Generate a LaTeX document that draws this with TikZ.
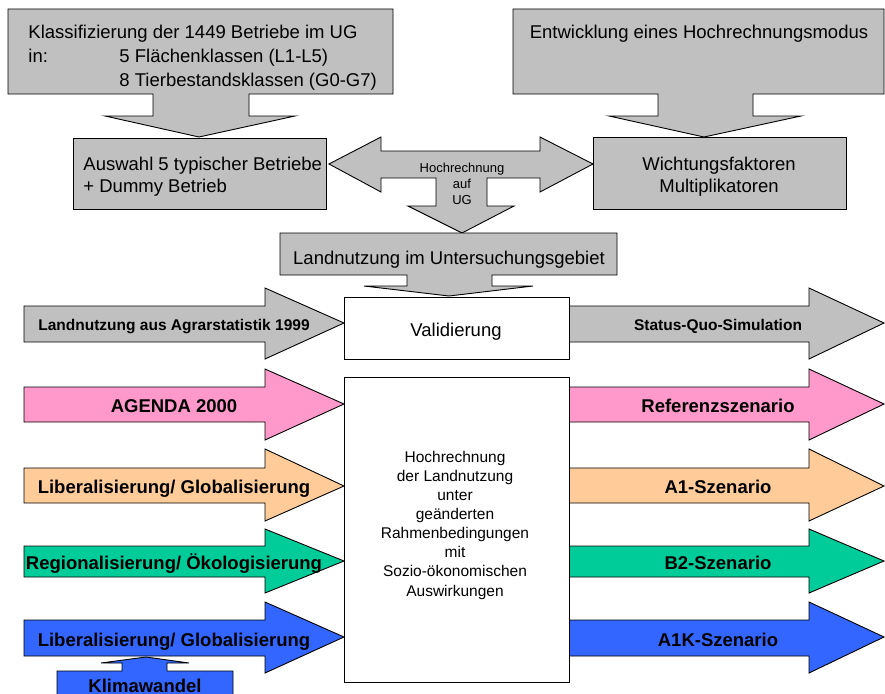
\documentclass[tikz,border=0pt]{standalone}
\usepackage{fontspec}
\setmainfont{Liberation Sans}
\definecolor{cgray}{RGB}{192,192,192}
\definecolor{cpink}{RGB}{255,153,204}
\definecolor{corange}{RGB}{255,204,153}
\definecolor{cgreen}{RGB}{0,204,153}
\definecolor{cblue}{RGB}{51,102,255}
\newcommand{\fbig}{\fontsize{18.5}{22}\selectfont}
\newcommand{\fmid}{\fontsize{15.5}{19.1}\selectfont}
\newcommand{\fsmall}{\fontsize{13}{15.6}\selectfont}
% block arrow pointing right: style, x0, xhead, xtip, shaft top, shaft bottom, head top, head bottom, mid
\newcommand{\blockarrow}[9]{%
  \draw[#1] (#2,#5) -- (#3,#5) -- (#3,#7) -- (#4,#9) -- (#3,#8) -- (#3,#6) -- (#2,#6) -- cycle;}
\begin{document}
\begin{tikzpicture}[x=1pt,y=-1pt,line width=0.9pt,line join=miter,
  shp/.style={draw=black},
  txt/.style={inner sep=0pt,anchor=base},
  txtl/.style={inner sep=0pt,anchor=base west},
  lbl/.style={inner sep=0pt,anchor=base,font=\fbig\bfseries},
  lblg/.style={inner sep=0pt,anchor=base,font=\fmid\bfseries}]
\useasboundingbox (0,0) rectangle (885,693);
\clip (0,0) rectangle (885,693);

% top callouts
\draw[shp,fill=cgray] (8,9) -- (393,9) -- (393,94) -- (249,94) -- (249,116) -- (295,116) -- (199,137)
  -- (105,116) -- (153,116) -- (153,94) -- (8,94) -- cycle;
\draw[shp,fill=cgray] (513,9) -- (884,9) -- (884,94) -- (753,94) -- (753,116) -- (801,116) -- (704,137)
  -- (609,116) -- (658,116) -- (658,94) -- (513,94) -- cycle;
\node[txtl,font=\fbig] (klass1) at (28,39) {Klassifizierung der 1449 Betriebe im UG};
\node[txtl,font=\fbig] (klass2) at (28,63) {in:};
\node[txtl,font=\fbig] (klass3) at (119,63) {5 Flächenklassen (L1-L5)};
\node[txtl,font=\fbig] (klass4) at (119,86) {8 Tierbestandsklassen (G0-G7)};
\node[txt,font=\fbig] (entw) at (699,39) {Entwicklung eines Hochrechnungsmodus};

% second row boxes
\draw[shp,fill=cgray] (73,138) rectangle (326,209);
\node[txtl,font=\fbig,align=left] (ausw) at (83,192) {Auswahl 5 typischer Betriebe\\+ Dummy Betrieb};
\draw[shp,fill=cgray] (593,137) rectangle (846,209);
\node[txt,font=\fbig,align=center] (wicht) at (719,192) {Wichtungsfaktoren\\Multiplikatoren};

% left-right-down arrow
\draw[shp,fill=cgray] (329,164) -- (381,137) -- (381,151) -- (540,151) -- (540,137) -- (593,164)
  -- (540,192) -- (540,178) -- (487,178) -- (487,206) -- (514,206) -- (462,233) -- (408,206)
  -- (436,206) -- (436,178) -- (381,178) -- (381,192) -- cycle;
\node[txt,font=\fsmall,align=center] (hoch) at (462,204) {Hochrechnung\\auf\\UG};

% Landnutzung callout
\draw[shp,fill=cgray] (280,233) -- (617,233) -- (617,275) -- (492,275) -- (492,286) -- (533,286)
  -- (449,296) -- (364,286) -- (407,286) -- (407,275) -- (280,275) -- cycle;
\node[txt,font=\fbig] (land) at (449,264) {Landnutzung im Untersuchungsgebiet};

% block arrows
\blockarrow{shp,fill=cgray}{24}{265}{344}{306}{342}{288}{359}{323}
\blockarrow{shp,fill=cgray}{569}{809}{884}{306}{342}{288}{359}{323}
\blockarrow{shp,fill=cpink}{24}{265}{344}{387}{422}{369}{440}{404}
\blockarrow{shp,fill=cpink}{569}{809}{884}{387}{422}{369}{440}{404}
\blockarrow{shp,fill=corange}{24}{265}{344}{468}{503}{449}{521}{486}
\blockarrow{shp,fill=corange}{569}{809}{884}{468}{503}{449}{521}{486}
\blockarrow{shp,fill=cgreen}{24}{265}{344}{546}{577}{529}{593}{561}
\blockarrow{shp,fill=cgreen}{569}{809}{884}{546}{577}{529}{593}{561}
\blockarrow{shp,fill=cblue}{24}{265}{344}{620}{656}{602}{673}{637}
\blockarrow{shp,fill=cblue}{569}{809}{884}{620}{656}{602}{673}{637}

% Klimawandel callout
\draw[shp,fill=cblue] (57,700) -- (57,671) -- (122,671) -- (122,663) -- (101,663) -- (146,657)
  -- (189,663) -- (167,663) -- (167,671) -- (233,671) -- (233,700) -- cycle;
\node[lbl] (klima) at (145,692) {Klimawandel};

% central boxes
\draw[shp,fill=white] (344,297) rectangle (569,359);
\node[txt,font=\fbig] (valid) at (456,336) {Validierung};
\draw[shp,fill=white] (344,377) rectangle (569,682);
\node[txt,font=\fmid,align=center] (hr) at (455,596) {Hochrechnung\\der Landnutzung\\unter\\geänderten\\Rahmenbedingungen\\mit\\Sozio-ökonomischen\\Auswirkungen};

% arrow labels
\node[lblg] (lagr) at (174,330) {Landnutzung aus Agrarstatistik 1999};
\node[lblg] (sq) at (718,330) {Status-Quo-Simulation};
\node[lbl] (agenda) at (174,412) {AGENDA 2000};
\node[lbl] (ref) at (718,412) {Referenzszenario};
\node[lbl] (lib1) at (174,493) {Liberalisierung/ Globalisierung};
\node[lbl] (a1) at (718,493) {A1-Szenario};
\node[lbl] (reg) at (174,569) {Regionalisierung/ Ökologisierung};
\node[lbl] (b2) at (718,569) {B2-Szenario};
\node[lbl] (lib2) at (174,646) {Liberalisierung/ Globalisierung};
\node[lbl] (a1k) at (718,646) {A1K-Szenario};
\end{tikzpicture}
\end{document}
